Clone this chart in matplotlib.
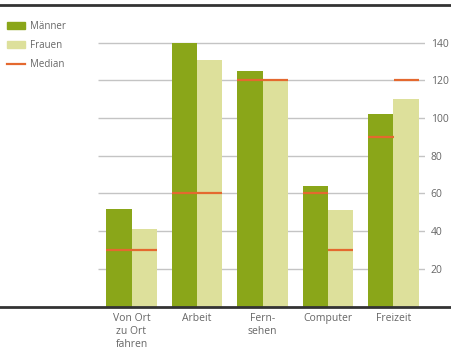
import matplotlib.pyplot as plt
from matplotlib.patches import Patch
from matplotlib.lines import Line2D
import numpy as np

plt.rcParams['font.family'] = ['Open Sans', 'DejaVu Sans']

# Daten (Minuten pro Tag, aus dem Bild geschätzt)
kategorien = ['Von Ort\nzu Ort\nfahren', 'Arbeit', 'Fern-\nsehen', 'Computer', 'Freizeit']
maenner = [52, 140, 125, 64, 102]
frauen = [41, 131, 120, 51, 110]
median_maenner = [30, 60, 120, 60, 90]
median_frauen = [30, 60, 120, 30, 120]
y_ticks = [20, 40, 60, 80, 100, 120, 140]

farbe_m = '#8aa619'
farbe_f = '#dde09b'
farbe_median = '#e4692f'
grau = '#666666'

W, H = 452, 354
fig = plt.figure(figsize=(W / 100, H / 100), dpi=100)
unten = 1 - 306.5 / H
oben = 1 - 5 / H
ax = fig.add_axes([0, unten, 425 / W, oben - unten])

x = np.arange(len(kategorien))
b = 0.389
ax.set_xlim(-131.5 / 65.5, (425 - 131.5) / 65.5)
ax.set_ylim(0, 160)

# Gitterlinien
ax.hlines(y_ticks, (98 - 131.5) / 65.5, ax.get_xlim()[1], color='#c4c4c4', lw=1.0, zorder=1)

ax.bar(x - b / 2, maenner, b, color=farbe_m, zorder=2)
ax.bar(x + b / 2, frauen, b, color=farbe_f, zorder=2)

# Mediane
ax.hlines(median_maenner, x - b, x, color=farbe_median, lw=1.6, zorder=3)
ax.hlines(median_frauen, x, x + b, color=farbe_median, lw=1.6, zorder=3)

for s in ax.spines.values():
    s.set_visible(False)
ax.yaxis.tick_right()
ax.set_yticks(y_ticks)
ax.tick_params(axis='y', length=0, pad=4, labelsize=7.5, labelcolor=grau)
ax.set_xticks(x)
ax.set_xticklabels(kategorien, linespacing=1.25)
ax.tick_params(axis='x', length=0, pad=5, labelsize=7.5, labelcolor=grau)

# dicke Linien oben und unten
fig.add_artist(Line2D([0, 1], [oben, oben], transform=fig.transFigure, color='#333333', lw=2))
fig.add_artist(Line2D([0, 1], [unten, unten], transform=fig.transFigure, color='#333333', lw=2))

handles = [Patch(color=farbe_m), Patch(color=farbe_f),
           Line2D([0], [0], color=farbe_median, lw=1.6)]
fig.legend(handles, ['Männer', 'Frauen', 'Median'], loc='upper left',
           bbox_to_anchor=(0.0, 1 - 14 / H), frameon=False, fontsize=7,
           labelcolor=grau, handlelength=1.9, handleheight=0.8,
           handletextpad=0.5, labelspacing=0.85, borderaxespad=0.3)

fig.savefig('out.png', dpi=100)
